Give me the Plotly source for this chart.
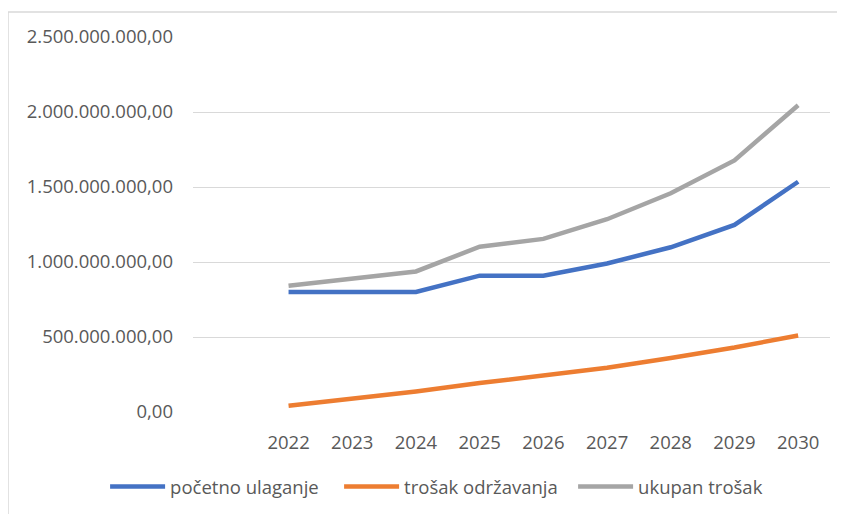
import plotly.graph_objects as go

categories = [" ", "2022", "2023", "2024", "2025", "2026", "2027", "2028", "2029", "2030"]
years = ["2022", "2023", "2024", "2025", "2026", "2027", "2028", "2029", "2030"]
pocetno_ulaganje = [800e6, 800e6, 800e6, 909e6, 909e6, 990e6, 1098e6, 1247e6, 1535e6]
trosak_odrzavanja = [42e6, 88e6, 137e6, 193e6, 245e6, 295e6, 360e6, 430e6, 510e6]
ukupan_trosak = [842e6, 890e6, 937e6, 1102e6, 1154e6, 1285e6, 1458e6, 1677e6, 2045e6]
y_ticks = [0, 500e6, 1000e6, 1500e6, 2000e6, 2500e6]

series = [
    ("početno ulaganje", pocetno_ulaganje, "#4472C4"),
    ("trošak održavanja", trosak_odrzavanja, "#ED7D31"),
    ("ukupan trošak", ukupan_trosak, "#A5A5A5"),
]

fig = go.Figure()
for name, vals, color in series:
    fig.add_trace(go.Scatter(x=years, y=vals, name=name, mode="lines",
                             line=dict(color=color, width=4.5)))

font_color = "#595959"
fig.update_layout(
    width=837, height=506,
    margin=dict(l=185, r=15, t=29, b=102, autoexpand=False),
    paper_bgcolor="white", plot_bgcolor="white",
    separators=",.",
    font=dict(family="Open Sans", size=18.5, color=font_color),
    showlegend=True,
    legend=dict(orientation="h", xref="paper", yref="paper",
                x=-0.138, xanchor="left", y=-0.2, yanchor="middle",
                font=dict(size=18.5, color=font_color),
                itemwidth=55, entrywidth=164, entrywidthmode="pixels",
                bgcolor="rgba(0,0,0,0)"),
    xaxis=dict(type="category", categoryorder="array", categoryarray=categories,
               range=[-0.5, 9.5], showgrid=False, showline=False, ticks="",
               ticklabelstandoff=17, tickfont=dict(size=18.5, color=font_color)),
    yaxis=dict(range=[0, 2.5e9], tickvals=y_ticks, tickformat=",.2f",
               showgrid=True, gridcolor="#D9D9D9", gridwidth=1.3,
               zeroline=False, showline=False, ticks="",
               ticklabelstandoff=19, tickfont=dict(size=18.5, color=font_color)),
    shapes=[dict(type="rect", xref="paper", yref="paper",
                 x0=-0.2904, x1=1.05, y0=-0.30, y1=1.0667,
                 line=dict(color="#D9D9D9", width=1.5), layer="below")],
)

fig.write_html("out.html")
